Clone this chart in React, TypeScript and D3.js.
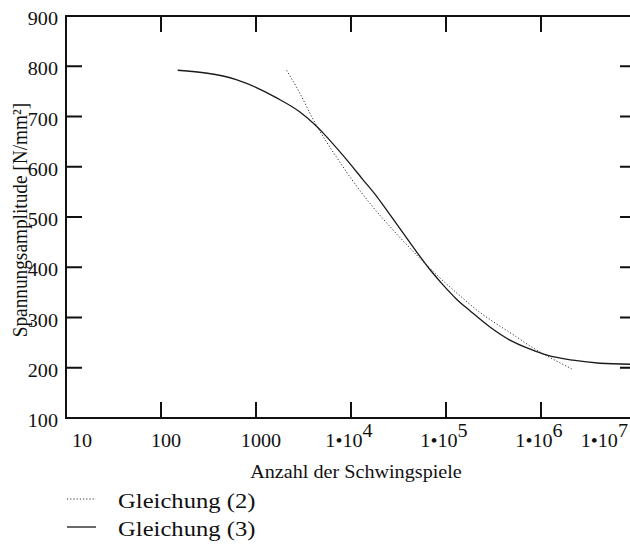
import React from 'react';
import * as d3 from 'd3';

// ---- data ----
const gl3N = [150, 630, 1650, 2900, 4200, 5100, 8200, 13400, 18800, 24500, 40000, 68000, 93000, 130000, 180000, 290000, 470000, 770000, 1160000, 2170000, 4200000, 8700000];
const gl3S = [792, 773, 737, 709, 683, 667, 623, 574, 540, 510, 454, 395, 365, 336, 313, 281, 255, 237, 225, 215, 209, 207];

const gl2N = [2100, 2900, 4000, 5500, 7100, 10250, 15850, 30000, 53000, 85000, 145000, 228000, 290000, 507000, 800000, 1050000, 2100000];
const gl2S = [792, 746, 694, 650, 618, 574, 527, 467, 418, 380, 341, 310, 296, 266, 241, 228, 198];

const yTicks = [100, 200, 300, 400, 500, 600, 700, 800, 900];
const xTicks = [10, 100, 1000, 1e4, 1e5, 1e6, 1e7];
const xTickBase = ['10', '100', '1000', '1•10', '1•10', '1•10', '1•10'];
const xTickExp = ['', '', '', '4', '5', '6', '7'];

const xTitle = 'Anzahl der Schwingspiele';
const yTitle = 'Spannungsamplitude [N/mm²]';
const legendLabels = ['Gleichung (2)', 'Gleichung (3)'];

// ---- layout ----
const W = 630;
const H = 544;
const SX = 1.12; // horizontal stretch of the glyphs in the reference
const FONT = "'Liberation Serif', 'Times New Roman', Tinos, 'DejaVu Serif', serif";
const INK = '#111';

const x = d3.scaleLog().domain([10, 1e7]).range([66, 636]);
const y = d3.scaleLinear().domain([100, 900]).range([418, 16]);

const TICK = 16;
const tickFont = 18;

function estWidth(s: string, fs: number) {
  let w = 0;
  for (const c of s) w += c === '•' ? 0.35 : 0.5;
  return w * fs * SX;
}

const line = d3
  .line<[number, number]>()
  .x((d) => x(d[0]))
  .y((d) => y(d[1]))
  .curve(d3.curveMonotoneX);

export default function App() {
  const gl3 = gl3N.map((n, i) => [n, gl3S[i]] as [number, number]);
  const gl2 = gl2N.map((n, i) => [n, gl2S[i]] as [number, number]);
  const [x0, x1] = x.range();
  const [yb, yt] = y.range();

  return (
    <div style={{ position: 'absolute', left: 0, top: 0, width: W, height: H, overflow: 'hidden', background: '#fff' }}>
      <svg width={W} height={H} style={{ display: 'block', fontFamily: FONT }}>
        <rect x={0} y={0} width={W} height={H} fill="#fff" />

        {/* frame (right side lies just beyond the picture edge) */}
        <rect x={x0} y={yt} width={x1 - x0} height={yb - yt} fill="none" stroke={INK} strokeWidth={2} />

        {/* ticks (inward on all four sides) */}
        {xTicks.map((t) => (
          <rect key={'tt' + t} x={x(t) - 1} y={yt} width={2} height={TICK} fill={INK} />
        ))}
        {xTicks.map((t) => (
          <rect key={'tb' + t} x={x(t) - 1} y={yb - TICK} width={2} height={TICK} fill={INK} />
        ))}
        {yTicks.map((t) => (
          <rect key={'tl' + t} x={x0} y={y(t) - 1} width={TICK} height={2} fill={INK} />
        ))}
        {yTicks.map((t) => (
          <rect key={'tr' + t} x={x1 - TICK} y={y(t) - 1} width={TICK} height={2} fill={INK} />
        ))}

        {/* y tick labels */}
        {yTicks.map((t) => (
          <text
            key={'yl' + t}
            transform={`translate(58,${y(t) + 9}) scale(${SX},1)`}
            textAnchor="end"
            fontSize={tickFont}
            fontFamily={FONT}
            fill={INK}
          >
            {t}
          </text>
        ))}

        {/* x tick labels */}
        {xTicks.map((t, i) => {
          const label = xTickBase[i] + xTickExp[i];
          const w = estWidth(label, tickFont);
          let cx = x(t) + (xTickExp[i] ? -2 : 5);
          if (cx - w / 2 < 72) cx = 72 + w / 2;
          if (cx + w / 2 > 628) cx = 628 - w / 2;
          return (
            <text
              key={'xl' + t}
              transform={`translate(${cx},447) scale(${SX},1)`}
              textAnchor="middle"
              fontSize={tickFont}
              fontFamily={FONT}
              fill={INK}
            >
              {xTickBase[i]}
              {xTickExp[i] ? <tspan dy={-10}>{xTickExp[i]}</tspan> : null}
            </text>
          );
        })}

        {/* axis titles */}
        <text
          transform={`translate(356,478) scale(${SX},1)`}
          textAnchor="middle"
          fontSize={18}
          fontFamily={FONT}
          fill={INK}
        >
          {xTitle}
        </text>
        <text
          transform={`translate(27,${(yt + yb) / 2 + 3}) scale(${SX},1) rotate(-90)`}
          textAnchor="middle"
          fontSize={19.3}
          fontFamily={FONT}
          fill={INK}
        >
          {yTitle}
        </text>

        {/* curves */}
        <path d={line(gl2) || ''} fill="none" stroke="#333" strokeWidth={1} strokeDasharray="1.2,2" />
        <path d={line(gl3) || ''} fill="none" stroke="#1a1a1a" strokeWidth={1.3} />

        {/* legend */}
        {legendLabels.map((lab, i) => (
          <g key={lab}>
            <line
              x1={67}
              x2={96}
              y1={499 + i * 28}
              y2={499 + i * 28}
              stroke={i === 0 ? '#333' : '#1a1a1a'}
              strokeWidth={i === 0 ? 1 : 1.3}
              strokeDasharray={i === 0 ? '1.2,2' : undefined}
            />
            <text
              transform={`translate(118,${508 + i * 28}) scale(${SX},1)`}
              fontSize={22}
              fontFamily={FONT}
              fill={INK}
            >
              {lab}
            </text>
          </g>
        ))}
      </svg>
    </div>
  );
}
